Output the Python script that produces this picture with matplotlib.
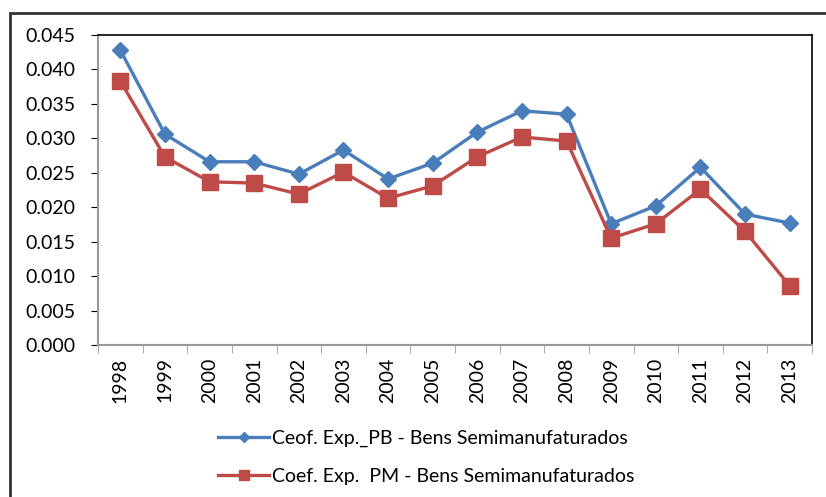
import matplotlib
matplotlib.use('Agg')
import matplotlib.pyplot as plt
from matplotlib.patches import Rectangle
import numpy as np

# data
years = ['1998', '1999', '2000', '2001', '2002', '2003', '2004', '2005',
         '2006', '2007', '2008', '2009', '2010', '2011', '2012', '2013']
coef_pb = [0.0428, 0.0306, 0.0266, 0.0266, 0.0248, 0.0283, 0.0241, 0.0264,
           0.0309, 0.0340, 0.0335, 0.0176, 0.0202, 0.0258, 0.0190, 0.0177]
coef_pm = [0.0383, 0.0273, 0.0237, 0.0235, 0.0219, 0.0251, 0.0213, 0.0231,
           0.0273, 0.0302, 0.0296, 0.0155, 0.0176, 0.0226, 0.0165, 0.0086]
yticks = [0.000, 0.005, 0.010, 0.015, 0.020, 0.025, 0.030, 0.035, 0.040, 0.045]
label_pb = 'Ceof. Exp._PB - Bens Semimanufaturados'
label_pm = 'Coef. Exp.  PM - Bens Semimanufaturados'

plt.rcParams['font.family'] = ['Lato', 'DejaVu Sans']

fig = plt.figure(figsize=(8.26, 4.97), dpi=100)
ax = fig.add_axes([98/826, 1 - 345/497, (812 - 98)/826, (345 - 35)/497])

x = np.arange(len(years))
ax.plot(x, coef_pb, color='#4A7EBB', lw=2.4, marker='D', ms=8.5, label=label_pb)
ax.plot(x, coef_pm, color='#BE4B48', lw=2.4, marker='s', ms=11, label=label_pm)

ax.set_xlim(-0.5, len(years) - 0.5)
ax.set_ylim(0, 0.045)
ax.set_yticks(yticks)
ax.set_yticklabels([f'{v:.3f}' for v in yticks], fontsize=14)
ax.set_xticks(x)
ax.set_xticklabels(years, rotation=90, fontsize=14)
ax.tick_params(axis='x', length=0, pad=9)
ax.set_xticks(np.arange(-0.5, len(years)), minor=True)
ax.tick_params(axis='x', which='minor', length=6, color='#999999', direction='out')
ax.tick_params(axis='y', length=5, color='black', direction='out', pad=11)

for s in ['top', 'right']:
    ax.spines[s].set_color('black')
    ax.spines[s].set_linewidth(1.2)
for s in ['left', 'bottom']:
    ax.spines[s].set_color('#999999')
    ax.spines[s].set_linewidth(1.5)

fig.legend(loc='center', bbox_to_anchor=(0.516, 0.08), ncol=1, frameon=False,
           fontsize=14, handlelength=2.6, handletextpad=0.15, labelspacing=1.05,
           markerscale=0.6)

# outer chart frame
fig.patches.append(Rectangle((10/826, -0.1), 1.2, 1.1 - 13/497, transform=fig.transFigure,
                             fill=False, edgecolor='#333333', lw=2))

fig.savefig('out.png', dpi=100)
